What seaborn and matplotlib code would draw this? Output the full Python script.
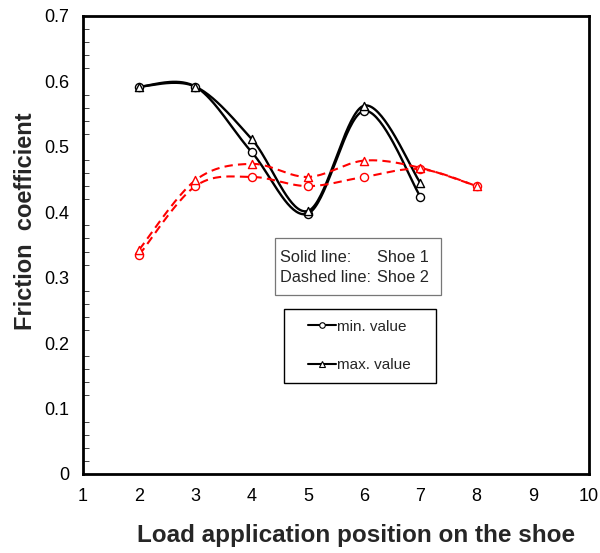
import numpy as np
import pandas as pd
import matplotlib
matplotlib.use("Agg")
import matplotlib.pyplot as plt
import seaborn as sns
from matplotlib.lines import Line2D
from matplotlib.patches import Rectangle
from matplotlib.ticker import MultipleLocator

# Friction coefficient at each load application position
pos_shoe1 = [2, 3, 4, 5, 6, 7]
shoe1_min = [0.592, 0.592, 0.492, 0.398, 0.555, 0.424]
shoe1_max = [0.592, 0.592, 0.512, 0.402, 0.563, 0.445]

pos_shoe2 = [2, 3, 4, 5, 6, 7, 8]
shoe2_min = [0.335, 0.440, 0.454, 0.440, 0.454, 0.466, 0.440]
shoe2_max = [0.343, 0.449, 0.474, 0.454, 0.479, 0.468, 0.440]

x_ticks = list(range(1, 11))
y_ticks = [0, 0.1, 0.2, 0.3, 0.4, 0.5, 0.6, 0.7]


def smooth(xs, ys, n=40):
    """Catmull-Rom style Bezier smoothing through every point."""
    p = np.column_stack([xs, ys]).astype(float)
    out = []
    for i in range(len(p) - 1):
        p0 = p[i - 1] if i > 0 else p[i]
        p1, p2 = p[i], p[i + 1]
        p3 = p[i + 2] if i + 2 < len(p) else p[i + 1]
        b1 = p1 + (p2 - p0) / 6.0
        b2 = p2 - (p3 - p1) / 6.0
        t = np.linspace(0, 1, n)[:, None]
        seg = ((1 - t) ** 3) * p1 + 3 * ((1 - t) ** 2) * t * b1 + 3 * (1 - t) * t ** 2 * b2 + t ** 3 * p2
        out.append(seg if i == 0 else seg[1:])
    s = np.vstack(out)
    return s[:, 0], s[:, 1]


sns.set_style("white")
plt.rcParams["font.family"] = ["Liberation Sans", "DejaVu Sans"]

AX_L, AX_R, AX_T, AX_B = 83, 589, 16, 474
fig = plt.figure(figsize=(6.0, 5.53), dpi=100)
ax = fig.add_axes([AX_L / 600, 1 - AX_B / 553, (AX_R - AX_L) / 600, (AX_B - AX_T) / 553])

series = [
    (pos_shoe1, shoe1_min, "black", "-", "o"),
    (pos_shoe1, shoe1_max, "black", "-", "^"),
    (pos_shoe2, shoe2_min, "red", "--", "o"),
    (pos_shoe2, shoe2_max, "red", "--", "^"),
]

for xs, ys, col, ls, mk in series:
    sx, sy = smooth(xs, ys)
    curve = pd.DataFrame({"x": sx, "y": sy})
    sns.lineplot(data=curve, x="x", y="y", sort=False, estimator=None, ax=ax,
                 color=col, linewidth=1.7 if col == "black" else 1.5)
    if ls == "--":
        ax.lines[-1].set_dashes((4, 2.5))
    pts = pd.DataFrame({"x": xs, "y": ys})
    sns.scatterplot(data=pts, x="x", y="y", ax=ax, marker=mk, s=34,
                    facecolor="white", edgecolor=col, linewidth=1.0, zorder=3)

ax.set_xlim(1, 10)
ax.set_ylim(0, 0.7)
ax.set_xticks(x_ticks)
ax.set_xticklabels([str(v) for v in x_ticks])
ax.set_yticks(y_ticks)
ax.set_yticklabels(["0"] + [f"{v:.1f}" for v in y_ticks[1:]])
ax.yaxis.set_minor_locator(MultipleLocator(0.02))

for sp in ax.spines.values():
    sp.set_visible(True)
    sp.set_color("black")
    sp.set_linewidth(2.0)

ax.tick_params(axis="both", which="major", direction="inout", length=8, width=0.8,
               labelsize=13, colors="black", pad=6)
ax.tick_params(axis="y", which="minor", direction="in", length=4, width=0.6, left=True)
ax.tick_params(axis="x", pad=6)


def px(x, y):
    """Figure pixel position -> axes fraction."""
    return (x - AX_L) / (AX_R - AX_L), (AX_B - y) / (AX_B - AX_T)


ax.set_xlabel("Load application position on the shoe", fontsize=17.5, fontweight="bold")
ax.xaxis.set_label_coords(*px(356, 524))
ax.set_ylabel("Friction  coefficient", fontsize=17, fontweight="bold")
ax.yaxis.set_label_coords(*px(37, 221))

# line style note
x0, y0 = px(275, 295)
x1, y1 = px(441, 238)
ax.add_patch(Rectangle((x0, y0), x1 - x0, y1 - y0, transform=ax.transAxes,
                       facecolor="white", edgecolor="#777777", linewidth=0.9, zorder=4))
for yy, left, right in [(258, "Solid line:", "Shoe 1"), (277, "Dashed line:", "Shoe 2")]:
    ax.text(*px(280, yy), left, transform=ax.transAxes, fontsize=11.8, va="center", ha="left", zorder=5)
    ax.text(*px(377, yy), right, transform=ax.transAxes, fontsize=11.8, va="center", ha="left", zorder=5)

# marker legend
x0, y0 = px(284, 383)
x1, y1 = px(436, 309)
ax.add_patch(Rectangle((x0, y0), x1 - x0, y1 - y0, transform=ax.transAxes,
                       facecolor="white", edgecolor="black", linewidth=1.0, zorder=4))
handles = [
    Line2D([], [], color="black", linewidth=1.5, marker="o", markersize=4,
           markerfacecolor="white", markeredgewidth=0.8),
    Line2D([], [], color="black", linewidth=1.5, marker="^", markersize=4,
           markerfacecolor="white", markeredgewidth=0.8),
]
leg = ax.legend(handles, ["min. value", "max. value"], loc="center left",
                bbox_to_anchor=px(308, 346), fontsize=11, frameon=False,
                handlelength=1.8, handletextpad=0.1, labelspacing=1.6,
                borderpad=0, borderaxespad=0)
leg.set_zorder(6)

fig.savefig("out.png", dpi=100, facecolor="white")
